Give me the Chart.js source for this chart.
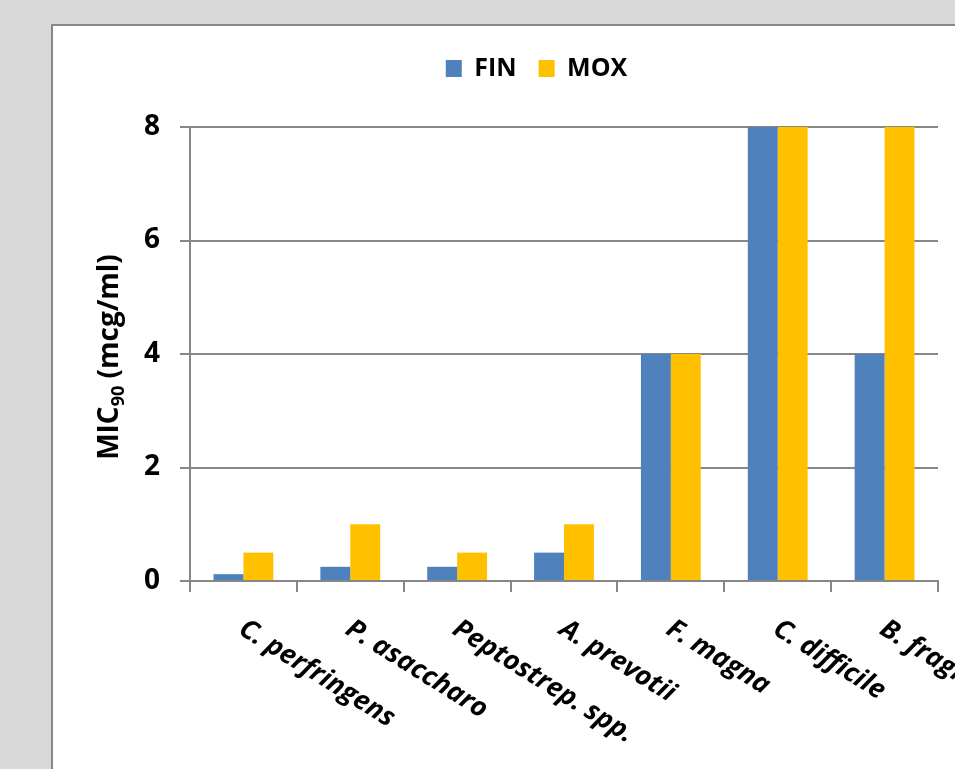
<!DOCTYPE html>
<html>
<head>
<meta charset="utf-8">
<script src="https://cdn.jsdelivr.net/npm/chart.js@4.4.1/dist/chart.umd.min.js"></script>
<style>
  html, body { margin: 0; padding: 0; background: #d9d9d9; }
</style>
</head>
<body>
<canvas id="micChart" width="955" height="769"></canvas>
<script>
const categories = ["C. perfringens", "P. asaccharo", "Peptostrep. spp.", "A. prevotii", "F. magna", "C. difficile", "B. fragilis"];
const finValues = [0.12, 0.25, 0.25, 0.5, 4, 8, 4];
const moxValues = [0.5, 1, 0.5, 1, 4, 8, 8];
const yTicks = [0, 2, 4, 6, 8];

const axisGray = "#878787";

// gray page with the white chart panel
const panelBg = {
    id: "panelBg",
    beforeDraw(chart) {
        const ctx = chart.ctx;
        ctx.save();
        ctx.fillStyle = "#d9d9d9";
        ctx.fillRect(0, 0, chart.width, chart.height);
        ctx.fillStyle = "#fff";
        ctx.fillRect(52, 25, chart.width, chart.height);
        ctx.strokeStyle = axisGray;
        ctx.lineWidth = 2;
        ctx.strokeRect(52, 25, chart.width + 20, chart.height + 20);
        ctx.restore();
    }
};

// slanted category labels + y title with subscript
const extraText = {
    id: "extraText",
    afterDraw(chart) {
        const ctx = chart.ctx;
        const x = chart.scales.x;
        ctx.save();
        ctx.fillStyle = "#000";
        ctx.font = "italic bold 27px 'Open Sans'";
        ctx.textAlign = "left";
        ctx.textBaseline = "top";
        categories.forEach((c, i) => {
            ctx.save();
            ctx.translate(x.getPixelForValue(i) + 5, 615);
            ctx.rotate(32 * Math.PI / 180);
            ctx.fillText(c, 0, 0);
            ctx.restore();
        });

        let big = "bold 28px 'Open Sans'";
        let small = "bold 18px 'Open Sans'";
        let parts = [["MIC", big, 0], ["90", small, 6], [" (mcg/ml)", big, 0]];
        let total = 0;
        parts.forEach(p => { ctx.font = p[1]; total += ctx.measureText(p[0]).width; });
        ctx.translate(118, 357);
        ctx.rotate(-Math.PI / 2);
        ctx.textBaseline = "alphabetic";
        let pos = -total / 2;
        parts.forEach(p => {
            ctx.font = p[1];
            ctx.fillText(p[0], pos, p[2]);
            pos += ctx.measureText(p[0]).width;
        });
        ctx.restore();
    }
};

const ctx = document.getElementById("micChart").getContext("2d");
new Chart(ctx, {
    type: "bar",
    data: {
        labels: categories,
        datasets: [{
            label: "FIN",
            data: finValues,
            backgroundColor: "#4f81bd",
            categoryPercentage: 0.56,
            barPercentage: 1
        }, {
            label: "MOX",
            data: moxValues,
            backgroundColor: "#ffc000",
            categoryPercentage: 0.56,
            barPercentage: 1
        }]
    },
    options: {
        responsive: false,
        animation: false,
        devicePixelRatio: 1,
        layout: { padding: { left: 135, right: 17, top: 34, bottom: 0 } },
        plugins: {
            legend: {
                position: "top",
                labels: {
                    boxWidth: 16,
                    boxHeight: 17,
                    padding: 22,
                    color: "#000",
                    font: { family: "'Open Sans'", weight: "bold", size: 25 }
                }
            },
            subtitle: {
                display: true,
                text: "",
                weight: 500,
                font: { size: 10, lineHeight: 1.2 },
                padding: { top: 12, bottom: 12 }
            },
            tooltip: { enabled: false }
        },
        scales: {
            x: {
                grid: { offset: true, drawOnChartArea: false, tickLength: 11, color: axisGray, lineWidth: 2 },
                border: { color: axisGray, width: 2 },
                ticks: { display: false },
                afterFit: s => { s.height = 188; }
            },
            y: {
                min: 0,
                max: 8,
                grid: { color: axisGray, lineWidth: 2, tickLength: 10 },
                border: { color: axisGray, width: 2 },
                ticks: {
                    color: "#000",
                    padding: 20,
                    font: { family: "'Open Sans'", weight: "bold", size: 28 }
                },
                afterBuildTicks: s => { s.ticks = yTicks.map(v => ({ value: v })); },
                afterFit: s => { s.width = 55; }
            }
        }
    },
    plugins: [panelBg, extraText]
});
</script>
</body>
</html>
